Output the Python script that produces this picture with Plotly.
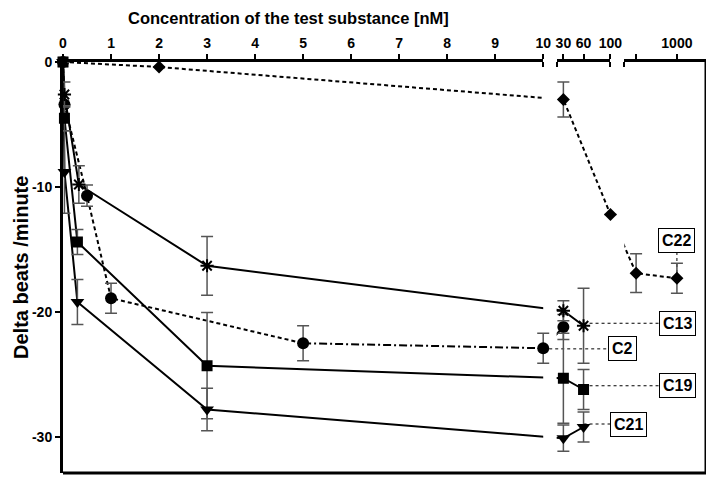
import plotly.graph_objects as go

# values: concentration (nM), change in beats/minute, error bar
c2_conc = [0, 0.03, 0.5, 1, 5, 10, 30]
c2_delta = [0, -3.4, -10.7, -18.9, -22.5, -22.9, -21.2]
c2_err = [None, None, 0.85, 1.2, 1.4, 1.2, 1.0]

c13_conc = [0, 0.03, 0.33, 3, 30, 60]
c13_delta = [0, -2.6, -9.8, -16.3, -19.9, -21.1]
c13_err = [None, 1.0, 1.5, 2.35, 0.8, 3.0]

c19_conc = [0, 0.03, 0.3, 3, 30, 60]
c19_delta = [0, -4.5, -14.4, -24.3, -25.3, -26.2]
c19_err = [None, 1.0, 1.0, 4.25, 3.6, 1.6]

c21_conc = [0, 0.03, 0.3, 3, 30, 60]
c21_delta = [0, -8.8, -19.2, -27.8, -30.1, -29.2]
c21_err = [None, 3.3, 1.8, 1.7, 1.05, 1.2]

c22_conc = [0, 2, 30, 100, 200, 1000]
c22_delta = [0, -0.4, -3.0, -12.2, -16.9, -17.3]
c22_err = [None, None, 1.4, None, 1.55, 1.2]

x_tickvals = [[0, 1, 2, 3, 4, 5, 6, 7, 8, 9, 10], [30, 60, 100], [200, 1000]]
x_ticktext = [[str(v) for v in range(11)], ["30", "60", "100"], ["", "1000"]]
y_tickvals = [0, -10, -20, -30]
y_ticktext = ["0", "-10", "-20", "-30"]

FONT = "Liberation Sans, Arial, sans-serif"

# broken x axis: value range of each piece and where it sits on one position scale
PARTS = [
    dict(lo=0, hi=10, start=0.0, end=10.0),
    dict(lo=20, hi=100, start=10.28, end=11.40),
    dict(lo=-30, hi=1570, start=11.69, end=13.39),
]
END = PARTS[-1]["end"]


def part_of(c):
    if c <= 10:
        return 0
    if c <= 100:
        return 1
    return 2


def pos(c):
    p = PARTS[part_of(c)]
    return p["start"] + (c - p["lo"]) / (p["hi"] - p["lo"]) * (p["end"] - p["start"])


SHORT_DASH = "4px,3px"
DASH_DOT = "8px,3px,2px,3px"

# name, data, marker symbol, marker size, line pieces (first idx, last idx, dash)
series = [
    ("C22", c22_conc, c22_delta, c22_err, "diamond", 10, [(0, 6, SHORT_DASH)]),
    ("C2", c2_conc, c2_delta, c2_err, "circle", 12, [(0, 5, SHORT_DASH), (4, 7, DASH_DOT)]),
    ("C13", c13_conc, c13_delta, c13_err, "asterisk-open", 11, [(0, 6, "solid")]),
    ("C19", c19_conc, c19_delta, c19_err, "square", 11, [(0, 6, "solid")]),
    ("C21", c21_conc, c21_delta, c21_err, "triangle-down", 12, [(0, 6, "solid")]),
]

fig = go.Figure()
# x, x2, x3: the three pieces of the broken axis (lines clipped to each piece)
# x4: full width overlay holding markers and error bars
part_axes = ["x", "x2", "x3"]

for name, conc, delta, err, sym, size, pieces in series:
    xs = [pos(c) for c in conc]
    for i0, i1, dash in pieces:
        for ax in part_axes:
            fig.add_trace(go.Scatter(
                x=xs[i0:i1], y=delta[i0:i1], mode="lines", xaxis=ax, yaxis="y",
                line=dict(color="black", width=2, dash=dash),
                hoverinfo="skip", showlegend=False))

for name, conc, delta, err, sym, size, pieces in series:
    xs = [pos(c) for c in conc]
    fig.add_trace(go.Scatter(
        x=xs, y=delta, mode="markers", name=name, xaxis="x4", yaxis="y",
        marker=dict(symbol=sym, size=size, color="black",
                    line=dict(color="black", width=2 if "open" in sym else 0)),
        error_y=dict(type="data", array=err, color="#555555",
                     thickness=1.5, width=6),
        cliponaxis=False, showlegend=False))

# boxed labels and dotted leaders
labels = [
    ("C22", 12.785, -14.24, 1000, -17.3, "v"),
    ("C13", 12.79, -20.9, 60, None, "h"),
    ("C2", 11.656, -22.95, 10, None, "h"),
    ("C19", 12.79, -25.9, 60, None, "h"),
    ("C21", 11.77, -28.96, 60, None, "h"),
]
# bottom and right frame lines
shapes = [
    dict(type="line", xref="paper", yref="paper", x0=0, x1=1, y0=0, y1=0,
         line=dict(color="black", width=3)),
    dict(type="line", xref="paper", yref="paper", x0=1, x1=1, y0=0, y1=1,
         line=dict(color="black", width=3)),
]
annotations = []
for text, lx, ly, conc, py, kind in labels:
    if kind == "v":
        shapes.append(dict(type="line", xref="x4", yref="y", x0=pos(conc), x1=pos(conc),
                           y0=ly, y1=py, layer="below",
                           line=dict(color="black", width=1, dash="dot")))
    else:
        shapes.append(dict(type="line", xref="x4", yref="y", x0=pos(conc), x1=lx,
                           y0=ly, y1=ly, layer="below",
                           line=dict(color="black", width=1, dash="dot")))
    annotations.append(dict(
        text="<b>%s</b>" % text, x=lx, y=ly, xref="x4", yref="y", showarrow=False,
        font=dict(family=FONT, size=16, color="black"),
        bgcolor="white", bordercolor="black", borderwidth=1, borderpad=3))

annotations.append(dict(
    text="<b>Concentration of the test substance [nM]</b>", x=0.35, y=1.107,
    xref="paper", yref="paper", showarrow=False, xanchor="center", yanchor="middle",
    font=dict(family=FONT, size=16.5, color="black")))
annotations.append(dict(
    text="<b>Delta beats /minute</b>", x=-0.0661, y=0.50, textangle=-90,
    xref="paper", yref="paper", showarrow=False, xanchor="center", yanchor="middle",
    font=dict(family=FONT, size=20, color="black")))

# the page body adds an 8px margin, so the figure is 8px smaller and shifted
layout = dict(
    width=706, height=473,
    margin=dict(l=55, r=8, t=54, b=8, autoexpand=False),
    paper_bgcolor="white", plot_bgcolor="rgba(0,0,0,0)",
    showlegend=False, hovermode=False,
    shapes=shapes, annotations=annotations,
    xaxis4=dict(domain=[0, 1], range=[0, END], anchor="y", visible=False),
    yaxis=dict(range=[-32.88, 0], anchor="x4", showline=True, linewidth=3,
               linecolor="black", ticks="outside", ticklen=5,
               tickwidth=2, tickcolor="black", tickvals=y_tickvals,
               ticktext=y_ticktext, showgrid=False, zeroline=False, automargin=False,
               tickfont=dict(family=FONT, size=14, color="black", weight="bold")),
)
for i, p in enumerate(PARTS):
    key = "xaxis" if i == 0 else "xaxis%d" % (i + 1)
    layout[key] = dict(
        domain=[p["start"] / END, p["end"] / END], range=[p["start"], p["end"]],
        anchor="y", side="top", showline=True, linewidth=3, linecolor="black",
        ticks="outside", ticklen=5, tickwidth=2, tickcolor="black", automargin=False,
        tickvals=[pos(c) for c in x_tickvals[i]], ticktext=x_ticktext[i],
        tickfont=dict(family=FONT, size=14, color="black", weight="bold"),
        showgrid=False, zeroline=False,
        minor=dict(tickmode="array", tickvals=[p["start"], p["end"]], ticks="inside",
                   ticklen=5, tickwidth=2, tickcolor="black"))

fig.update_layout(**layout)
fig.write_html("out.html")
